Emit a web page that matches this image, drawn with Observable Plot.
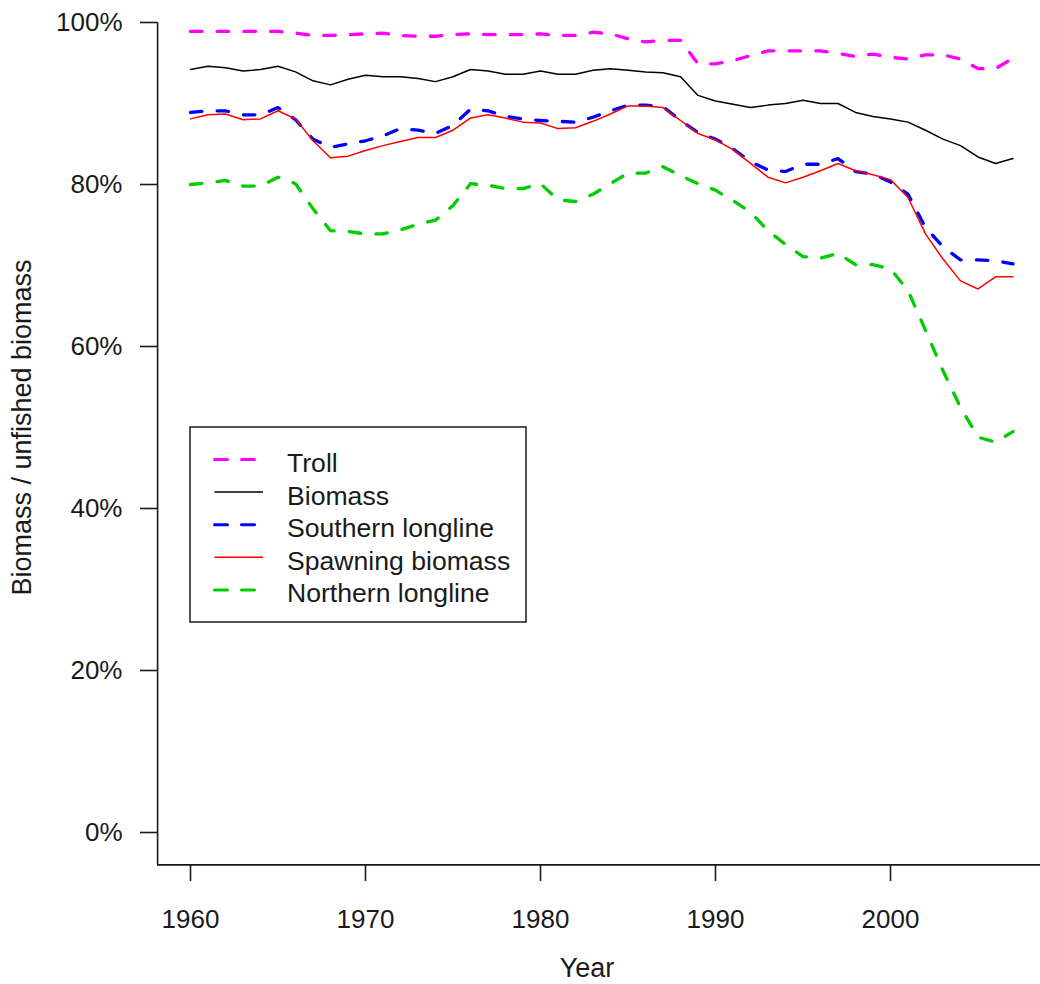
<!DOCTYPE html>
<html><head><meta charset="utf-8">
<script src="https://cdn.jsdelivr.net/npm/d3@7"></script>
<script src="https://cdn.jsdelivr.net/npm/@observablehq/plot@0.6"></script>
<style>
html,body{margin:0;padding:0;background:#fff;}
#chart{width:1040px;height:984px;}
</style></head><body><div id="chart"></div>
<script>
const years = [1960,1961,1962,1963,1964,1965,1966,1967,1968,1969,1970,1971,1972,1973,1974,1975,1976,1977,1978,1979,1980,1981,1982,1983,1984,1985,1986,1987,1988,1989,1990,1991,1992,1993,1994,1995,1996,1997,1998,1999,2000,2001,2002,2003,2004,2005,2006,2007];
const troll = [98.9,98.9,98.9,98.9,98.9,98.9,98.7,98.4,98.4,98.5,98.6,98.7,98.4,98.3,98.3,98.5,98.6,98.5,98.5,98.5,98.6,98.4,98.4,98.8,98.6,98.0,97.6,97.8,97.8,94.9,94.9,95.3,95.9,96.5,96.5,96.5,96.5,96.2,95.8,96.1,95.7,95.5,96.0,96.0,95.5,94.3,94.3,95.6];
const biomass = [94.2,94.6,94.4,94.0,94.2,94.6,93.9,92.8,92.3,93.0,93.5,93.3,93.3,93.1,92.7,93.3,94.2,94.0,93.6,93.6,94.0,93.6,93.6,94.1,94.3,94.1,93.9,93.8,93.3,91.0,90.3,89.9,89.5,89.8,90.0,90.4,90.0,90.0,88.9,88.4,88.1,87.7,86.7,85.6,84.8,83.4,82.6,83.2];
const southern = [88.9,89.1,89.1,88.6,88.6,89.5,88.0,85.6,84.6,85.0,85.4,86.0,86.9,86.7,86.3,87.3,89.3,89.1,88.4,88.1,87.9,87.8,87.7,88.3,89.1,89.8,89.8,89.6,87.9,86.4,85.6,84.4,82.8,81.8,81.6,82.5,82.5,83.2,81.6,81.3,80.3,78.8,74.7,72.3,70.7,70.7,70.6,70.2];
const spawning = [88.1,88.6,88.7,88.0,88.1,89.1,88.1,85.4,83.3,83.5,84.2,84.8,85.3,85.8,85.8,86.7,88.2,88.6,88.2,87.7,87.6,86.9,87.0,87.8,88.7,89.7,89.7,89.5,87.9,86.3,85.5,84.3,82.6,80.9,80.2,80.9,81.7,82.6,81.7,81.2,80.6,78.4,73.9,70.8,68.1,67.1,68.6,68.6];
const northern = [80.0,80.2,80.5,79.8,79.8,80.9,80.1,77.0,74.3,74.2,73.9,73.9,74.4,75.1,75.6,77.4,80.1,79.9,79.5,79.5,80.1,78.1,77.9,78.8,80.1,81.4,81.4,82.2,81.1,80.1,79.3,78.0,76.6,74.3,72.6,71.1,70.9,71.5,70.1,70.1,69.6,66.9,62.0,57.0,52.5,48.8,48.2,49.5];

const seriesNames = ["Troll","Biomass","Southern longline","Spawning biomass","Northern longline"];
const seriesValues = [troll, biomass, southern, spawning, northern];
const seriesColors = ["#ff00ff","#000000","#0000ff","#ff0000","#00cd00"];
const seriesDashed = [true,false,true,false,true];
const xTicks = [1960,1970,1980,1990,2000];
const yTicks = [0,20,40,60,80,100];
const xLabel = "Year";
const yLabel = "Biomass / unfished biomass";

const rows = [];
seriesNames.forEach((name, i) => seriesValues[i].forEach((v, j) => rows.push({year: years[j], value: v, series: name})));

// R-style usr extents (4% padding)
const xPad = (d3.max(years) - d3.min(years)) * 0.04;
const yPad = 100 * 0.04;

const DASH = "11.5,15.2";
const lineMarks = seriesNames.map((name, i) => Plot.line(rows.filter(r => r.series === name), {
  x: "year", y: "value",
  stroke: seriesColors[i],
  strokeWidth: seriesDashed[i] ? 3.3 : 1.5,
  strokeDasharray: seriesDashed[i] ? DASH : null,
  strokeLinecap: "round", strokeLinejoin: "round"
}));

const plot = Plot.plot({
  width: 1040, height: 984,
  marginLeft: 157, marginRight: 0, marginTop: 22, marginBottom: 120,
  style: {fontFamily: "'Liberation Sans', Arial, sans-serif", fontSize: "26px", color: "#1a1a1a", background: "#fff"},
  x: {domain: [1960, 2007], range: [190, 1012.5]},
  y: {domain: [0, 100], range: [832, 22]},
  marks: [
    Plot.ruleX([d3.min(years) - xPad], {stroke: "#1a1a1a", strokeWidth: 1.6}),
    Plot.ruleY([-yPad], {stroke: "#1a1a1a", strokeWidth: 1.6}),
    Plot.axisX({ticks: xTicks, tickSize: 17, tickPadding: 28, tickFormat: d => String(d), label: null, strokeWidth: 1.6}),
    Plot.axisY({ticks: yTicks, tickSize: 17, tickPadding: 18, tickFormat: d => d + "%", label: null, strokeWidth: 1.6}),
    ...lineMarks,
    Plot.text([xLabel], {frameAnchor: "bottom", textAnchor: "middle", dx: -12, dy: 112, fontSize: 27, fill: "#1a1a1a"}),
    Plot.text([yLabel], {frameAnchor: "left", textAnchor: "middle", rotate: -90, dx: -135, dy: -16, fontSize: 27, fill: "#1a1a1a"})
  ]
});

document.getElementById("chart").appendChild(plot);

// Legend box (R style)
const svg = d3.select(plot);
const lg = svg.append("g").attr("font-family", "'Liberation Sans', Arial, sans-serif").attr("font-size", 26.6).attr("text-anchor", "start");
lg.append("rect").attr("x", 190).attr("y", 427).attr("width", 336).attr("height", 195)
  .attr("fill", "#fff").attr("stroke", "#1a1a1a").attr("stroke-width", 1.5);
seriesNames.forEach((name, i) => {
  const yy = 459.5 + i * 32.6;
  lg.append("line").attr("x1", 214.5).attr("x2", 263).attr("y1", yy).attr("y2", yy)
    .attr("stroke", seriesColors[i])
    .attr("stroke-width", seriesDashed[i] ? 3 : 1.5)
    .attr("stroke-dasharray", seriesDashed[i] ? "13,14" : null)
    .attr("stroke-linecap", seriesDashed[i] ? "round" : "butt");
  lg.append("text").attr("x", 287).attr("y", yy + 12.5).attr("text-anchor", "start").attr("fill", "#1a1a1a").text(name);
});
</script>
</body></html>
